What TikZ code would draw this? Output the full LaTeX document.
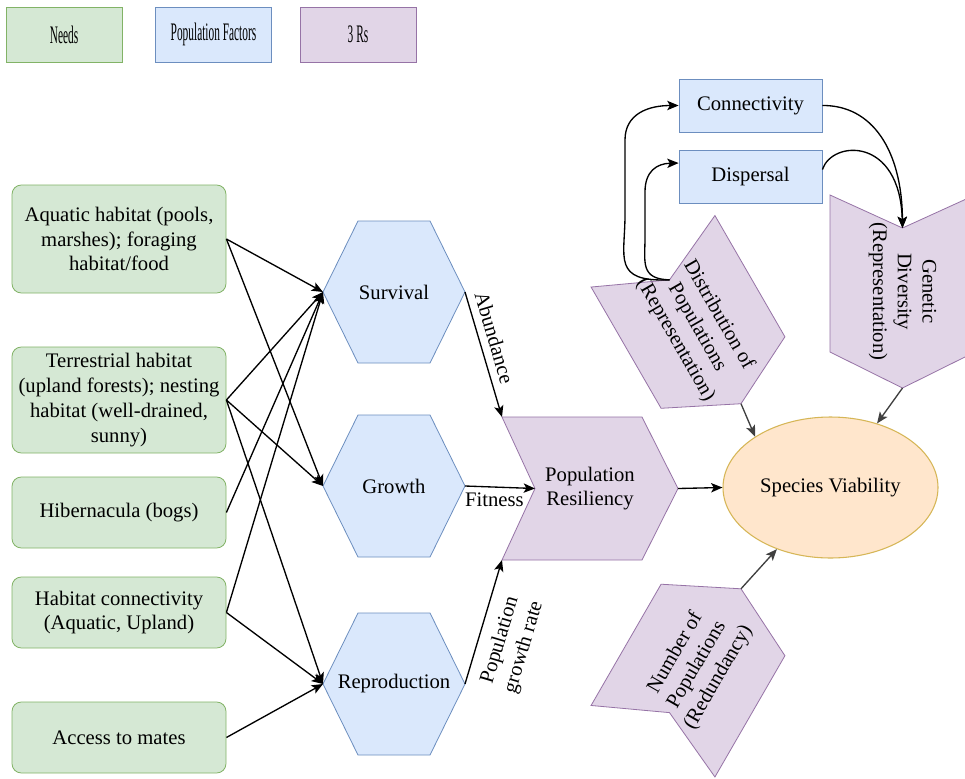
\documentclass[tikz,border=0pt]{standalone}
\usepackage{fontspec}
\usepackage{graphicx}
\setmainfont{LiberationSerif}[Extension=.ttf,UprightFont=*-Regular,BoldFont=*-Bold,ItalicFont=*-Italic,BoldItalicFont=*-BoldItalic]
\usetikzlibrary{arrows.meta,shapes.geometric,calc}

\definecolor{gfill}{HTML}{D5E8D4}
\definecolor{gline}{HTML}{82B366}
\definecolor{bfill}{HTML}{DAE8FC}
\definecolor{bline}{HTML}{6C8EBF}
\definecolor{pfill}{HTML}{E1D5E7}
\definecolor{pline}{HTML}{9673A6}
\definecolor{ofill}{HTML}{FFE6CC}
\definecolor{oline}{HTML}{D6B656}
\definecolor{garrow}{HTML}{404040}

\tikzset{
  txt/.style={font=\rmfamily\fontsize{15.5}{18.6}\selectfont, align=center, inner sep=1.5pt, text=black},
  greenbox/.style={txt, draw=gline, fill=gfill, rounded corners=7pt, minimum width=160.5pt, line width=0.6pt},
  bluebox/.style={draw=bline, fill=bfill, line width=0.6pt},
  purplebox/.style={draw=pline, fill=pfill, line width=0.6pt},
  legendbox/.style={txt, minimum width=87pt, minimum height=41.25pt, line width=0.6pt},
  arr/.style={-{Stealth[length=8.5pt,width=7pt,inset=2pt]}, line width=1pt, black},
  arrg/.style={arr, garrow},
}

\newcommand{\hexshape}[4]{%
  \begin{scope}[shift={(#2,#3)}]
    \draw[bluebox] (-71,0) -- (-36,-71) -- (36,-71) -- (71,0) -- (36,71) -- (-36,71) -- cycle;
    \coordinate (#1-l) at (-71,0);
    \coordinate (#1-r) at (71,0);
    \node[txt] (#1) at (0,0) {#4};
  \end{scope}}

\newcommand{\stepshape}[7]{%
  \begin{scope}[shift={(#2,#3)},rotate=#4]
    \draw[purplebox] (-#5,-#6) -- ({#5-36},-#6) -- (#5,0) -- ({#5-36},#6) -- (-#5,#6) -- ({-#5+33},0) -- cycle;
    \coordinate (#1-notch) at ({-#5+33},0);
    \coordinate (#1-tip) at (#5,0);
    \coordinate (#1-tl) at (-#5,-#6);
    \coordinate (#1-bl) at (-#5,#6);
    \node[txt,rotate=#4] (#1) at (0,0) {#7};
  \end{scope}}

\begin{document}
\begin{tikzpicture}[x=0.75pt,y=-0.75pt]
\useasboundingbox (0,0) rectangle (965,779);
\fill[white] (0,0) rectangle (965,779);

% legend
\node[legendbox, draw=gline, fill=gfill] (lgneeds) at (64,34.5) {\scalebox{0.55}[1.22]{Needs}};
\node[legendbox, draw=bline, fill=bfill] (lgpop) at (213.5,34.5) {\scalebox{0.55}[1.22]{Population Factors}};
\node[legendbox, draw=pline, fill=pfill] (lgrs) at (358,34.5) {\scalebox{0.55}[1.22]{3 Rs}};

% needs
\node[greenbox, minimum height=81pt] (aq) at (119,239) {Aquatic habitat (pools,\\marshes); foraging\\habitat/food};
\node[greenbox, minimum height=79.5pt] (te) at (119,400) {Terrestrial habitat\\(upland forests); nesting\\habitat (well-drained,\\sunny)};
\node[greenbox, minimum height=53.25pt] (hi) at (119,512.5) {Hibernacula (bogs)};
\node[greenbox, minimum height=53.25pt] (hc) at (119,612.5) {Habitat connectivity\\(Aquatic, Upland)};
\node[greenbox, minimum height=53.25pt] (am) at (119,737.5) {Access to mates};

% population factors
\hexshape{surv}{394}{292}{Survival}
\hexshape{grow}{394}{486}{Growth}
\hexshape{repr}{394}{684}{Reproduction}

\node[txt, bluebox, minimum width=107.25pt, minimum height=39.75pt] (conn) at (750.5,105.5) {Connectivity};
\node[txt, bluebox, minimum width=107.25pt, minimum height=39.75pt] (disp) at (750.5,176.5) {Dispersal};

% 3 Rs
\stepshape{pr}{590}{488.5}{0}{88}{71.5}{Population\\Resiliency}
\stepshape{di}{697}{327.5}{-60}{88}{71.5}{Distribution of\\Populations\\(Representation)}
\stepshape{np}{697}{665}{60}{88}{71.5}{Number of\\Populations\\(Redundancy)}
\stepshape{gd}{902.5}{291.5}{-90}{96.5}{72.5}{Genetic\\Diversity\\(Representation)}

% species viability
\node[txt, ellipse, draw=oline, fill=ofill, line width=0.8pt, minimum width=161.25pt, minimum height=105.75pt, inner sep=0pt] (sv) at (830.5,487.5) {Species Viability};

% needs -> factors
\foreach \s/\t in {aq/surv, aq/grow, te/surv, te/grow, te/repr, hi/surv, hc/surv, hc/repr, am/repr}
  \draw[arr] (\s.east) -- (\t-l);

% factors -> resiliency
\draw[arr] (surv-r) -- node[txt, sloped, above=4pt, pos=0.4] {Abundance} (pr-tl);
\draw[arr] (grow-r) -- node[txt, below=2pt, pos=0.42] {Fitness} (pr-notch);
\draw[arr] (repr-r) -- node[txt, sloped, below=7pt, pos=0.4] {Population\\growth rate} (pr-bl);

% resiliency -> viability
\draw[arr] (pr-tip) -- (sv.west);
\draw[arrg] (di-tip) -- (sv.146);
\draw[arrg] (gd-tip) -- (sv.54);
\draw[arrg] (np-tip) -- (sv.229);

% distribution -> connectivity / dispersal
\draw[arr] (di-notch) .. controls (612,282) and (625,258) .. (625,215) -- (625,140) .. controls (625,114) and (648,105.5) .. (conn.west);
\draw[arr] (di-notch) .. controls (640,279) and (645,262) .. (645,238) -- (645,192) .. controls (645,171) and (657,163.5) .. ($(disp.north west)!0.25!(disp.south west)$);

% connectivity / dispersal -> genetic diversity
\draw[arr] (conn.east) .. controls (872,105) and (902,150) .. (gd-notch);
\draw[arr] ($(disp.north east)!0.37!(disp.south east)$) .. controls (832,140) and (900,136) .. (gd-notch);
\end{tikzpicture}
\end{document}
